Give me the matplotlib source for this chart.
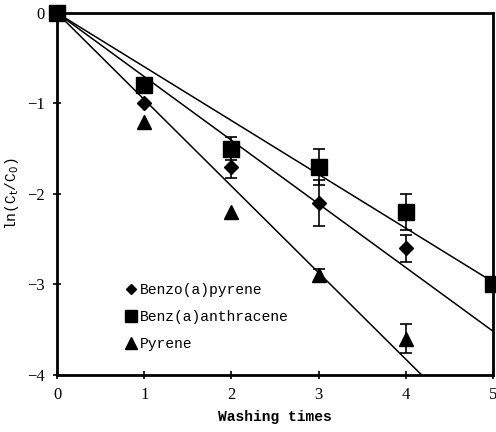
import numpy as np
import matplotlib
matplotlib.use('Agg')
import matplotlib.pyplot as plt

# dane
washing = [0, 1, 2, 3, 4, 5]

bap_x = [0, 1, 2, 3, 4]
bap_y = [0, -1.0, -1.7, -2.1, -2.6]
bap_err = [0, 0, 0.12, 0.25, 0.15]

baa_x = [0, 1, 2, 3, 4, 5]
baa_y = [0, -0.8, -1.5, -1.7, -2.2, -3.0]
baa_err = [0, 0, 0.13, 0.2, 0.2, 0]

pyr_x = [0, 1, 2, 3, 4]
pyr_y = [0, -1.2, -2.2, -2.9, -3.6]
pyr_err = [0, 0, 0, 0.07, 0.16]

names = ['Benzo(a)pyrene', 'Benz(a)anthracene', 'Pyrene']

fig = plt.figure(figsize=(4.96, 4.32), dpi=100)
ax = fig.add_axes([0.115, 0.132, 0.879, 0.838])

series = [
    (bap_x, bap_y, bap_err, 'D', 7),
    (baa_x, baa_y, baa_err, 's', 11),
    (pyr_x, pyr_y, pyr_err, '^', 10),
]

xs = np.linspace(0, 5, 200)
for (x, y, e, m, ms), name in zip(series, names):
    x = np.array(x, dtype=float)
    y = np.array(y, dtype=float)
    e = np.array(e, dtype=float)
    # dopasowanie liniowe przez poczatek ukladu
    k = np.sum(x * y) / np.sum(x * x)
    ax.plot(xs, k * xs, color='black', lw=1.1, zorder=2)
    has_err = e > 0
    ax.errorbar(x[has_err], y[has_err], yerr=e[has_err], fmt='none',
                ecolor='black', elinewidth=1.2, capsize=4, capthick=1.2,
                zorder=3)
    ax.plot(x, y, linestyle='none', marker=m, markersize=ms, color='black',
            label=name, zorder=4, clip_on=False)

ax.set_xlim(0, 5)
ax.set_ylim(-4, 0)
ax.set_xticks(washing)
ax.set_yticks([0, -1, -2, -3, -4])
ax.set_yticklabels(['0', '\u22121', '\u22122', '\u22123', '\u22124'])

for s in ax.spines.values():
    s.set_linewidth(2)
ax.tick_params(axis='both', direction='inout', length=6, width=1.2,
               labelsize=12, pad=6)
for lab in ax.get_xticklabels() + ax.get_yticklabels():
    lab.set_fontfamily('Liberation Serif')

ax.set_xlabel('Washing times', fontfamily='Liberation Mono', fontsize=10.5,
              fontweight='bold', labelpad=5)
ax.set_ylabel(r'ln(C$_\mathrm{t}$/C$_\mathrm{0}$)', fontfamily='Liberation Mono',
              fontsize=10.5, labelpad=4)

leg = ax.legend(loc='lower left', bbox_to_anchor=(0.13, 0.03), frameon=False,
                handlelength=0.6, handletextpad=0.3, labelspacing=0.9,
                prop={'family': 'Liberation Mono', 'size': 10.5},
                markerscale=0.8)

fig.savefig('out.png', dpi=100)
